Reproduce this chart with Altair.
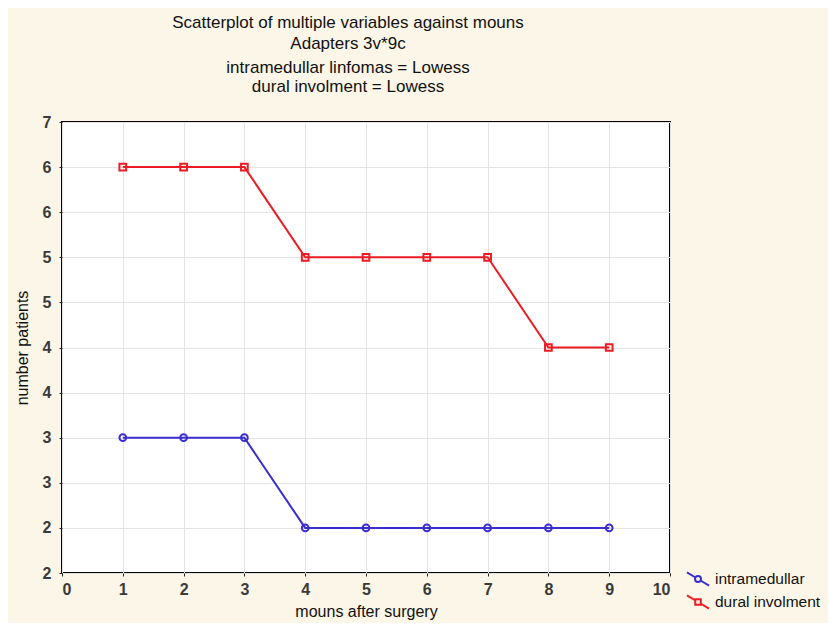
import altair as alt
import pandas as pd

months = [1, 2, 3, 4, 5, 6, 7, 8, 9]
series_names = ["intramedullar", "dural involment"]
intramedullar = [3.5, 3.5, 3.5, 2.5, 2.5, 2.5, 2.5, 2.5, 2.5]
dural = [6.5, 6.5, 6.5, 5.5, 5.5, 5.5, 5.5, 4.5, 4.5]
colors = ["#3a2ecf", "#ec1c24"]
shapes = ["circle", "square"]

x_tick_values = [0, 1, 2, 3, 4, 5, 6, 7, 8, 9, 10]
y_tick_values = [2, 2.5, 3, 3.5, 4, 4.5, 5, 5.5, 6, 6.5, 7]
y_tick_labels = ["2", "2", "3", "3", "4", "4", "5", "5", "6", "6", "7"]

rows = []
for m, a, b in zip(months, intramedullar, dural):
    rows.append({"month": m, "value": a, "series": series_names[0]})
    rows.append({"month": m, "value": b, "series": series_names[1]})
df = pd.DataFrame(rows)

expr = "''"
for v, lab in zip(y_tick_values, y_tick_labels):
    expr = f"(datum.value == {v} ? '{lab}' : {expr})"

legend_paths = [
    "M-1,-0.6L-0.27,-0.16M0.27,0.16L1,0.6M0.27,0A0.27,0.27,0,1,1,-0.27,0A0.27,0.27,0,1,1,0.27,0Z",
    "M-1,-0.6L-0.27,-0.16M0.27,0.16L1,0.6M-0.25,-0.25L0.25,-0.25L0.25,0.25L-0.25,0.25Z",
]

legend = alt.Legend(
    title=None,
    orient="none",
    legendX=624,
    legendY=445,
    padding=0,
    symbolSize=484,
    symbolStrokeWidth=2,
    symbolFillColor="transparent",
    labelFont="Liberation Sans",
    labelFontSize=15.5,
    labelColor="#111111",
    labelOffset=5,
    labelLimit=200,
    rowPadding=-1,
)

x_enc = alt.X(
    "month:Q",
    scale=alt.Scale(domain=[0, 10], nice=False),
    axis=alt.Axis(
        values=x_tick_values,
        title="mouns after surgery",
        format="d",
        labelPadding=5,
        titlePadding=6,
    ),
)
y_enc = alt.Y(
    "value:Q",
    scale=alt.Scale(domain=[2, 7], nice=False, zero=False),
    axis=alt.Axis(
        values=y_tick_values,
        labelExpr=expr,
        title="number patients",
        labelPadding=8,
        titlePadding=12,
    ),
)

base = alt.Chart(df)

lines = base.mark_line(strokeWidth=2).encode(
    x=x_enc,
    y=y_enc,
    color=alt.Color("series:N", scale=alt.Scale(domain=series_names, range=colors), legend=None),
    detail="series:N",
)

points = base.mark_point(filled=False, strokeWidth=2, size=45, opacity=1).encode(
    x=x_enc,
    y=y_enc,
    color=alt.Color("series:N", scale=alt.Scale(domain=series_names, range=colors), legend=None),
    shape=alt.Shape("series:N", scale=alt.Scale(domain=series_names, range=shapes), legend=None),
)

legend_layer = (
    base.transform_filter("false")
    .mark_point(filled=False, strokeWidth=2, size=484, opacity=1)
    .encode(
        x=x_enc,
        y=y_enc,
        color=alt.Color("series:N", scale=alt.Scale(domain=series_names, range=colors), legend=legend),
        shape=alt.Shape("series:N", scale=alt.Scale(domain=series_names, range=legend_paths), legend=legend),
    )
)

chart = (
    alt.layer(lines, points, legend_layer)
    .resolve_scale(color="independent", shape="independent")
    .properties(
        width=608,
        height=451,
        autosize=alt.AutoSizeParams(type="none"),
        padding={"left": 54, "top": 114, "right": 158, "bottom": 50},
        title=alt.TitleParams(
            text=["Scatterplot of multiple variables against mouns", "Adapters 3v*9c"],
            subtitle=["intramedullar linfomas = Lowess", "dural involment = Lowess"],
            anchor="middle",
            frame="group",
            dx=-18,
            offset=18,
            font="Liberation Sans",
            fontSize=17,
            fontWeight="normal",
            color="#111111",
            lineHeight=21,
            subtitleFont="Liberation Sans",
            subtitleFontSize=17,
            subtitleColor="#111111",
            subtitleLineHeight=19,
            subtitlePadding=7,
        ),
    )
    .configure(background="#fbf6e7")
    .configure_view(fill="white", stroke="black", strokeWidth=2)
    .configure_axis(
        labelFont="Liberation Sans",
        labelFontSize=16,
        labelFontWeight="bold",
        labelColor="#3a3a3a",
        titleFont="Liberation Sans",
        titleFontSize=16,
        titleFontWeight="normal",
        titleColor="#111111",
        gridColor="#e4e4e4",
        gridWidth=1,
        domain=False,
        tickColor="#222222",
        tickSize=3,
    )
)

chart.save("out.html", embed_options={"renderer": "svg", "actions": False})
